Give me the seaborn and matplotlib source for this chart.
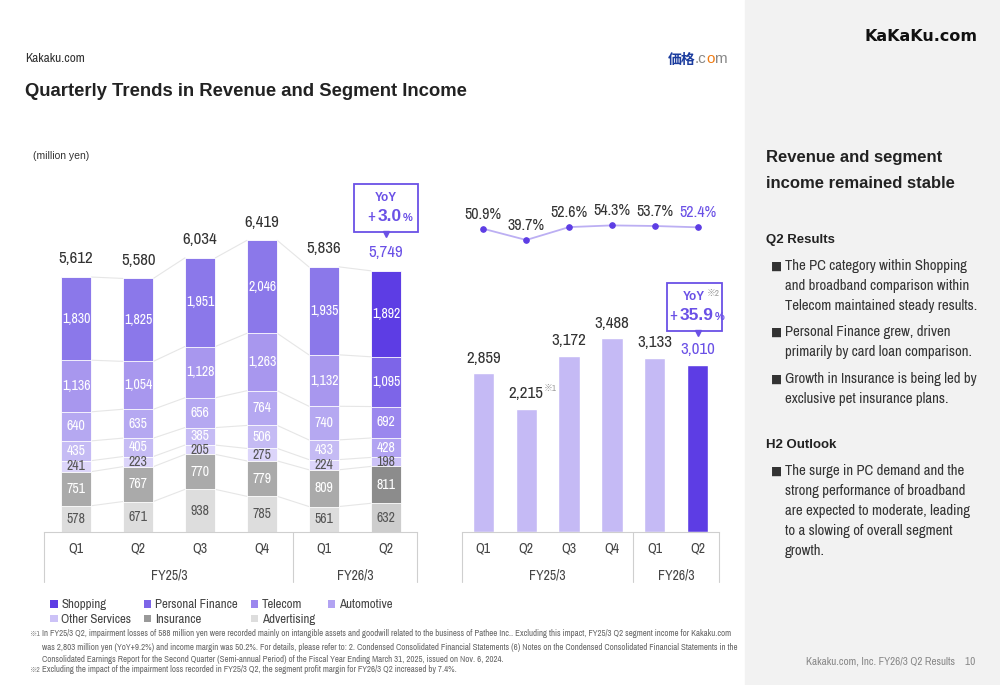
import numpy as np
import pandas as pd
import matplotlib.pyplot as plt
import seaborn as sns
from matplotlib.patches import Rectangle, Patch
from matplotlib.lines import Line2D

# 데이터 (million yen)
periods = ["FY25/3 Q1", "FY25/3 Q2", "FY25/3 Q3", "FY25/3 Q4", "FY26/3 Q1", "FY26/3 Q2"]
quarters = ["Q1", "Q2", "Q3", "Q4", "Q1", "Q2"]
fiscal_years = ["FY25/3", "FY26/3"]
fy_first = [0, 4]
fy_last = [3, 5]

advertising = [578, 671, 938, 785, 561, 632]
insurance = [751, 767, 770, 779, 809, 811]
other_services = [241, 223, 205, 275, 224, 198]
automotive = [435, 405, 385, 506, 433, 428]
telecom = [640, 635, 656, 764, 740, 692]
personal_finance = [1136, 1054, 1128, 1263, 1132, 1095]
shopping = [1830, 1825, 1951, 2046, 1935, 1892]
revenue_total = [5612, 5580, 6034, 6419, 5836, 5749]

segment_income = [2859, 2215, 3172, 3488, 3133, 3010]
income_margin = [50.9, 39.7, 52.6, 54.3, 53.7, 52.4]

revenue_yoy = "3.0"
income_yoy = "35.9"

# 아래 -> 위 순서
seg_names = ["Advertising", "Insurance", "Other Services", "Automotive",
             "Telecom", "Personal Finance", "Shopping"]
seg_values = [advertising, insurance, other_services, automotive,
              telecom, personal_finance, shopping]
past_colors = ["#DDDDDD", "#AAAAAA", "#DCD5FA", "#C5BBF4", "#B5A8F1", "#A897EE", "#8B78EA"]
curr_colors = ["#CDCDCD", "#8C8C8C", "#CCC2F7", "#B2A3F2", "#9B87EE", "#7D65E8", "#5D3DE4"]
legend_colors = ["#DDDDDD", "#999999", "#CCC2F7", "#B2A3F2", "#9B87EE", "#7D65E8", "#5D3DE4"]
label_colors = ["#555555", "white", "#555555", "white", "white", "white", "white"]

PURPLE = "#6A50E6"
DARK = "#333333"
NARROW = ['Archivo Narrow', 'Liberation Sans', 'Noto Sans CJK JP', 'DejaVu Sans']
REGULAR = ['Liberation Sans', 'Noto Sans CJK JP', 'DejaVu Sans']

sns.set_theme(style="white")
plt.rcParams['font.family'] = NARROW
plt.rcParams['axes.unicode_minus'] = False

W, H = 1000, 685
fig = plt.figure(figsize=(10, 6.85), dpi=100)

# 픽셀 좌표용 배경 축
bg = fig.add_axes([0, 0, 1, 1], zorder=-1)
bg.set_xlim(0, W)
bg.set_ylim(H, 0)
bg.axis("off")
bg.add_patch(Rectangle((745, 0), W - 745, H, color="#F2F2F2", zorder=0))


def fx(px):
    return px / W


def fy(py):
    return 1 - py / H


# 헤더
bg.text(25, 58, "Kakaku.com", fontsize=9.5, color=DARK, va="center")
bg.text(25, 91, "Quarterly Trends in Revenue and Segment Income",
        fontsize=13.3, fontweight="bold", color="#222222", va="center", family=REGULAR)
t_logo = bg.text(668, 60, "価格", fontsize=10, fontweight="bold", color="#1B3C9E",
                 va="center", family=['Noto Sans CJK JP', 'DejaVu Sans'])
a1 = bg.annotate(".c", xy=(1, 0), xycoords=t_logo, xytext=(-1, 1), textcoords="offset points",
                 va="bottom", fontsize=11, color="#888888", family=REGULAR)
a2 = bg.annotate("o", xy=(1, 0), xycoords=a1, va="bottom", fontsize=11, color="#F07A10",
                 family=REGULAR)
a3 = bg.annotate("m", xy=(1, 0), xycoords=a2, va="bottom", fontsize=11, color="#888888",
                 family=REGULAR)
bg.text(921, 36, "KaKaKu.com", fontsize=11.5, fontweight="bold", color="#111111",
        ha="center", va="center", family=['DejaVu Sans'])
bg.text(33, 156, "(million yen)", fontsize=7.5, color=DARK, va="center", family=REGULAR)

# ---------------- 매출 누적 막대 ----------------
ax1_h = 532 - 140
scale1 = 0.04544  # px / million yen
ax1 = fig.add_axes([fx(44), fy(532), fx(417) - fx(44), ax1_h / H])
ax1.set_ylim(0, ax1_h / scale1)
cum = np.cumsum(np.array(seg_values), axis=0)
bar_w1 = 0.49

for k in range(len(seg_names) - 1, -1, -1):
    pal = {p: (curr_colors[k] if i == len(periods) - 1 else past_colors[k]) for i, p in enumerate(periods)}
    sns.barplot(x=periods, y=cum[k], hue=periods, palette=pal, width=bar_w1, saturation=1,
                legend=False, errorbar=None, edgecolor="white", linewidth=0.6, ax=ax1)

# 막대 사이 연결선
for k in range(len(seg_names)):
    for i in range(len(periods) - 1):
        ax1.plot([i + bar_w1 / 2, i + 1 - bar_w1 / 2], [cum[k][i], cum[k][i + 1]],
                 color="#E6E6E6", lw=0.8, zorder=0.5)

# 구간 라벨
for k in range(len(seg_names)):
    for i in range(len(periods)):
        v = seg_values[k][i]
        ax1.text(i, cum[k][i] - v / 2, f"{v:,}", ha="center", va="center",
                 fontsize=10, color=label_colors[k])

# 합계 라벨
for i, v in enumerate(revenue_total):
    c = PURPLE if i == len(periods) - 1 else DARK
    ax1.annotate(f"{v:,}", xy=(i, v), xytext=(0, 13), textcoords="offset points",
                 ha="center", va="center", fontsize=12.2, color=c)

# ---------------- 세그먼트 이익 막대 ----------------
ax2_h = 532 - 260
scale2 = 0.0555
ax2 = fig.add_axes([fx(462), fy(532), fx(719) - fx(462), ax2_h / H])
ax2.set_ylim(0, ax2_h / scale2)
pal2 = {p: ("#5D3DE4" if i == len(periods) - 1 else "#C5BAF5") for i, p in enumerate(periods)}
sns.barplot(x=periods, y=segment_income, hue=periods, palette=pal2, width=0.5, saturation=1,
            legend=False, errorbar=None, ax=ax2)
for i, v in enumerate(segment_income):
    c = PURPLE if i == len(periods) - 1 else DARK
    t = ax2.annotate(f"{v:,}", xy=(i, v), xytext=(0, 11), textcoords="offset points",
                     ha="center", va="center", fontsize=12.2, color=c)
    if i == 1:
        ax2.annotate("※1", xy=(1, 0.55), xycoords=t, va="bottom", ha="left",
                     fontsize=6.5, color="#999999")

# 이익률 라인
ax3 = fig.add_axes([fx(462), fy(250), fx(719) - fx(462), 35 / H])
sns.lineplot(x=list(range(len(periods))), y=income_margin, ax=ax3, color="#BCAFF3", lw=1.3,
             marker="o", markersize=4, markerfacecolor="#5D3DE4", markeredgecolor="#5D3DE4")
ax3.set_xlim(-0.5, 5.5)
ax3.set_ylim(29.7, 64.7)
ax3.axis("off")
for i, v in enumerate(income_margin):
    c = PURPLE if i == len(periods) - 1 else DARK
    ax3.annotate(f"{v:.1f}%", xy=(i, v), xytext=(0, 10.5), textcoords="offset points",
                 ha="center", va="center", fontsize=11.5, color=c)

# 축 / 카테고리 표
for ax, ax_h in [(ax1, ax1_h), (ax2, ax2_h)]:
    ax.patch.set_alpha(0)
    ax.set_xlim(-0.52 if ax is ax1 else -0.5, 5.5)
    ax.set_ylabel("")
    ax.set_yticks([])
    for s in ["left", "right", "top"]:
        ax.spines[s].set_visible(False)
    ax.spines["bottom"].set_color("#CFCFCF")
    ax.spines["bottom"].set_linewidth(0.8)
    ax.set_xticks(range(len(periods)))
    ax.set_xticklabels(quarters, fontsize=10, color="#444444")
    ax.tick_params(axis="x", length=0, pad=7)
    tr = ax.get_xaxis_transform()
    drop = -50 / ax_h
    for xa in [0, 1]:
        ax.add_line(Line2D([xa, xa], [0, drop], transform=ax.transAxes, color="#CFCFCF",
                           lw=0.8, clip_on=False))
    ax.add_line(Line2D([3.5, 3.5], [0, drop], transform=tr, color="#CFCFCF", lw=0.8, clip_on=False))
    for name, a, b in zip(fiscal_years, fy_first, fy_last):
        ax.text((a + b) / 2, -43 / ax_h, name, transform=tr, ha="center", va="center",
                fontsize=10, color="#444444")
ax3.patch.set_alpha(0)


# YoY 박스
def yoy_box(ax, scale, x, value, bottom_px, height_px, left_u, right_u, pct, note=False):
    y0 = value + bottom_px / scale
    ax.add_patch(Rectangle((x - left_u, y0), left_u + right_u, height_px / scale,
                           facecolor="white", edgecolor=PURPLE, lw=1.3, clip_on=False, zorder=5))
    ax.plot([x], [y0 - 2.5 / scale], marker="v", markersize=4, color=PURPLE, clip_on=False, zorder=6)
    xc = x - left_u + (left_u + right_u) / 2
    ax.text(xc, y0 + (height_px - 14) / scale, "YoY", ha="center", va="center",
            fontsize=8.5, fontweight="bold", color=PURPLE, zorder=6, family=REGULAR)
    if note:
        ax.text(x + right_u - 0.05, y0 + (height_px - 11) / scale, "※2", ha="right", va="center",
                fontsize=6.5, color="#999999", zorder=6)
    tn = ax.text(xc + 0.06, y0 + 15 / scale, pct, ha="center", va="center",
                 fontsize=12.5, fontweight="bold", color=PURPLE, zorder=6, family=REGULAR)
    ax.annotate("+", xy=(0, 0.5), xycoords=tn, xytext=(-2, 0), textcoords="offset points",
                ha="right", va="center", fontsize=12, color=PURPLE, zorder=6)
    ax.annotate("%", xy=(1, 0.08), xycoords=tn, xytext=(1, 0), textcoords="offset points",
                ha="left", va="bottom", fontsize=8, fontweight="bold", color=PURPLE, zorder=6,
                family=REGULAR)


yoy_box(ax1, scale1, 5, revenue_total[-1], 39, 48, 0.516, 0.516, revenue_yoy)
yoy_box(ax2, scale2, 5, segment_income[-1], 34, 48, 0.72, 0.56, income_yoy, note=True)

# 범례
order = [6, 2, 5, 1, 4, 0, 3]
handles = [Patch(facecolor=legend_colors[k], edgecolor="none") for k in order]
labels = [seg_names[k] for k in order]
fig.legend(handles, labels, ncol=4, loc="upper left", bbox_to_anchor=(fx(44), fy(593)),
           frameon=False, fontsize=9.3, handlelength=0.55, handleheight=0.55, handletextpad=0.3,
           columnspacing=1.0, labelspacing=0.28, borderpad=0, labelcolor="#444444")

# 주석
notes = [
    (634, "※1", "In FY25/3 Q2, impairment losses of 588 million yen were recorded mainly on intangible assets and goodwill related to the business of Pathee Inc.. Excluding this impact, FY25/3 Q2 segment income for Kakaku.com"),
    (647, "", "was 2,803 million yen (YoY+9.2%) and income margin was 50.2%. For details, please refer to: 2. Condensed Consolidated Financial Statements (6) Notes on the Condensed Consolidated Financial Statements in the"),
    (659, "", "Consolidated Earnings Report for the Second Quarter (Semi-annual Period) of the Fiscal Year Ending March 31, 2025, issued on Nov. 6, 2024."),
    (670, "※2", "Excluding the impact of the impairment loss recorded in FY25/3 Q2, the segment profit margin for FY26/3 Q2 increased by 7.4%."),
]
for yy, mark, txt in notes:
    if mark:
        bg.text(30, yy, mark, fontsize=5.3, color="#777777", va="center")
    bg.text(42, yy, txt, fontsize=6.4, color="#666666", va="center")

bg.text(975, 662, "Kakaku.com, Inc. FY26/3 Q2 Results    10", fontsize=8,
        color="#888888", ha="right", va="center")

# 오른쪽 요약 패널
bg.text(766, 157, "Revenue and segment", fontsize=12, fontweight="bold", color="#222222",
        va="center", family=REGULAR)
bg.text(766, 183, "income remained stable", fontsize=12, fontweight="bold", color="#222222",
        va="center", family=REGULAR)
bg.text(766, 240, "Q2 Results", fontsize=9.5, fontweight="bold", color="#222222",
        va="center", family=REGULAR)
bg.text(766, 445, "H2 Outlook", fontsize=9.5, fontweight="bold", color="#222222",
        va="center", family=REGULAR)

bullets = [
    (266, ["The PC category within Shopping", "and broadband comparison within",
           "Telecom maintained steady results."]),
    (332, ["Personal Finance grew, driven", "primarily by card loan comparison."]),
    (379, ["Growth in Insurance is being led by", "exclusive pet insurance plans."]),
    (471, ["The surge in PC demand and the", "strong performance of broadband",
           "are expected to moderate, leading", "to a slowing of overall segment", "growth."]),
]
for y0, lines in bullets:
    bg.text(771, y0, "■", fontsize=8.5, color="#333333", va="center", family=['DejaVu Sans'])
    for j, ln in enumerate(lines):
        bg.text(785, y0 + 20 * j, ln, fontsize=10.6, color="#333333", va="center")

fig.savefig("out.png", dpi=100)
